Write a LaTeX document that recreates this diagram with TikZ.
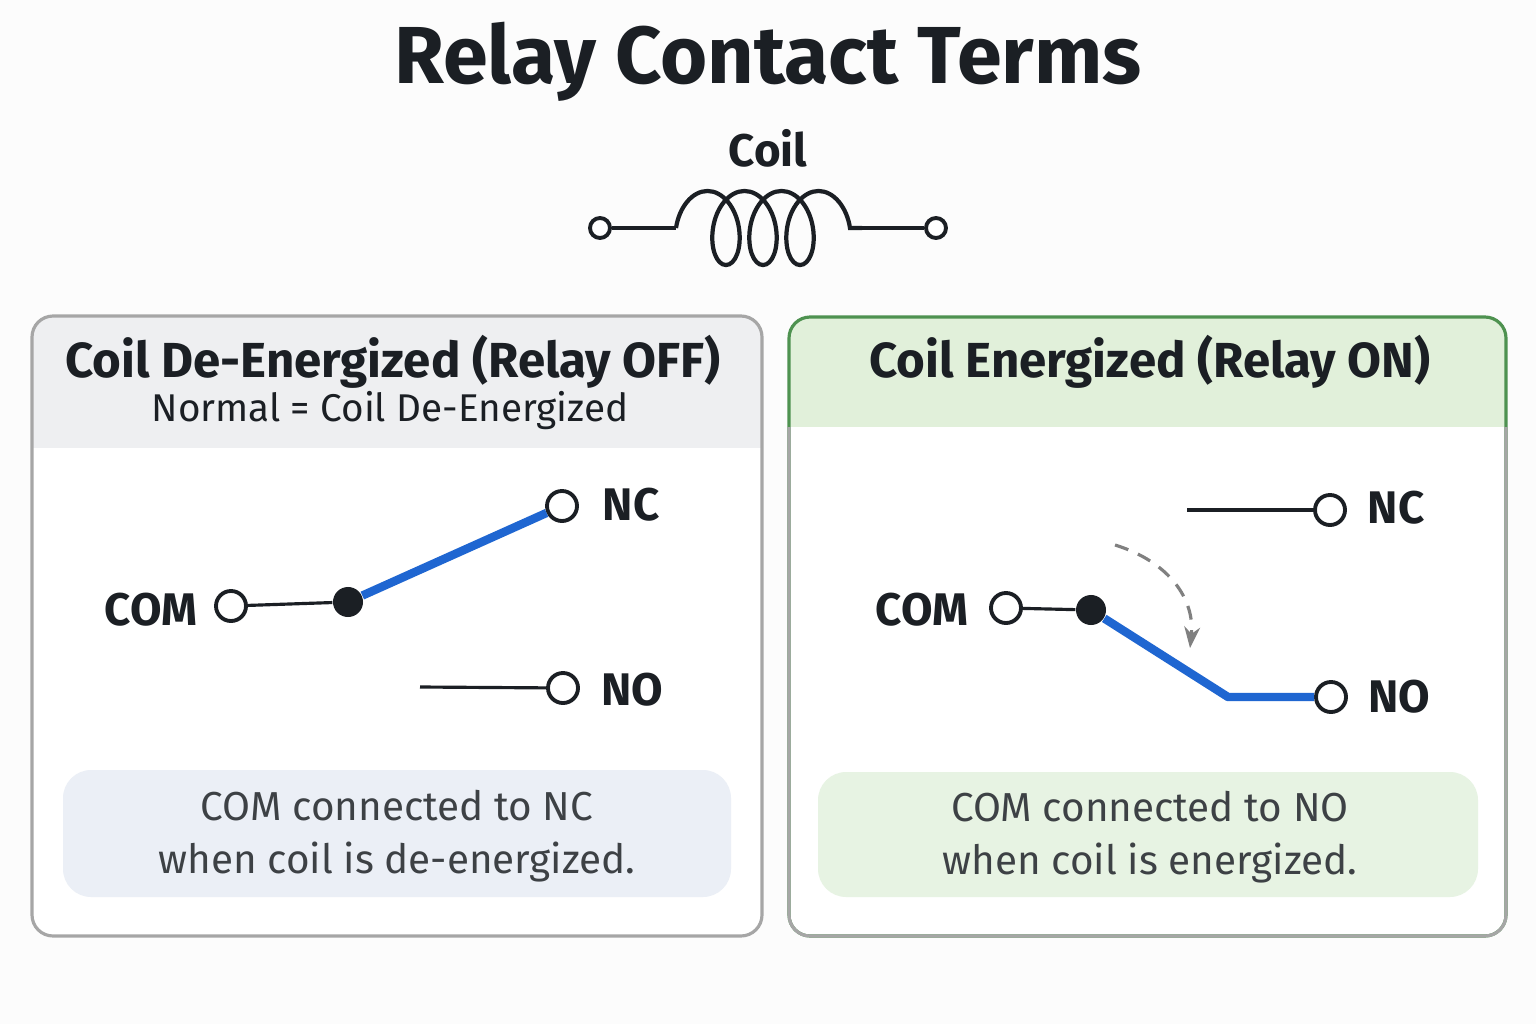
\documentclass[tikz,border=0pt]{standalone}
\usepackage{fontspec}
\setmainfont{Fira Sans}
\usetikzlibrary{decorations.pathmorphing,arrows.meta}
\definecolor{ink}{HTML}{1B1F24}
\definecolor{blu}{HTML}{1F66D1}
\definecolor{hdrg}{HTML}{EEEFF1}
\definecolor{hdrgr}{HTML}{E1F0DA}
\definecolor{boxg}{HTML}{EBEFF6}
\definecolor{boxgr}{HTML}{E7F3E3}
\definecolor{grn}{HTML}{4E9250}
\tikzset{
 term/.style={circle,draw=ink,line width=1.1pt,fill=white,minimum size=0.3cm,inner sep=0pt},
 pivot/.style={circle,fill=ink,minimum size=0.3cm,inner sep=0pt},
 wire/.style={draw=ink,line width=0.9pt},
 arm/.style={draw=blu,line width=2.4pt,line join=round},
 lbl/.style={font=\fontsize{13}{15}\selectfont\bfseries,text=ink},
 hdr/.style={font=\fontsize{14}{17}\selectfont\bfseries,text=ink},
 sub/.style={font=\fontsize{11}{13}\selectfont,text=ink},
 note/.style={font=\fontsize{11.5}{15}\selectfont,text=ink!85,align=center}
}
\begin{document}
\begin{tikzpicture}[x=0.01cm,y=-0.01cm]
\fill[white!98!gray] (0,0) rectangle (1536,1024);
\useasboundingbox (0,0) rectangle (1536,1024);
\node[font=\fontsize{23}{27}\selectfont\bfseries,text=ink] (title) at (768,62) {Relay Contact Terms};
\node[font=\fontsize{13}{15}\selectfont\bfseries,text=ink] (coillbl) at (768,148) {Coil};
% coil
\node[term,minimum size=0.2cm] (c1) at (600,228) {};
\node[term,minimum size=0.2cm] (c2) at (936,228) {};
\coordinate (ca) at (676,228);
\coordinate (cb) at (862,228);
\draw[wire,line width=1.2pt] (c1) -- (ca);
\draw[wire,line width=1.2pt] (cb) -- (c2);
\draw[wire,line width=1.2pt,decorate,decoration={coil,amplitude=0.37cm,segment length=0.37cm,aspect=0.6}] (ca) -- (cb);
% left panel
\begin{scope}
\clip[rounded corners=6] (32,316) rectangle (762,936);
\fill[white] (32,316) rectangle (762,936);
\fill[hdrg] (32,316) rectangle (762,448);
\end{scope}
\draw[gray!70,line width=0.9pt,rounded corners=6] (32,316) rectangle (762,936);
\node[hdr] (lh) at (393,362) {Coil De-Energized (Relay OFF)};
\node[sub] (ls) at (390,411) {Normal = Coil De-Energized};
\fill[boxg,rounded corners=8] (63,770) rectangle (731,897);
\node[note] (ln) at (397,836) {COM connected to NC\\when coil is de-energized.};
\node[term] (lcom) at (231,606) {};
\node[pivot] (lp) at (348,602) {};
\node[term] (lnc) at (562,506) {};
\node[term] (lno) at (563,688) {};
\coordinate (lnoend) at (420,687);
\draw[wire] (lcom) -- (lp);
\draw[arm] (lp) -- (lnc);
\draw[wire] (lnoend) -- (lno);
\node[lbl] (lcoml) at (151,610) {COM};
\node[lbl] (lncl) at (631,505) {NC};
\node[lbl] (lnol) at (632,690) {NO};
% right panel
\begin{scope}
\clip[rounded corners=6] (789,317) rectangle (1506,936);
\fill[white] (789,317) rectangle (1506,936);
\fill[hdrgr] (789,317) rectangle (1506,427);
\end{scope}
\draw[grn,line width=0.9pt,rounded corners=6] (789,317) rectangle (1506,936);
\draw[gray!70,line width=0.9pt,rounded corners=6] (789,427) -- (789,936) -- (1506,936) -- (1506,427);
\node[hdr] (rh) at (1150,362) {Coil Energized (Relay ON)};
\fill[boxgr,rounded corners=8] (818,772) rectangle (1478,897);
\node[note] (rn) at (1150,837) {COM connected to NO\\when coil is energized.};
\node[term] (rcom) at (1006,608) {};
\node[pivot] (rp) at (1091,610) {};
\node[term] (rnc) at (1330,510) {};
\node[term] (rno) at (1331,697) {};
\coordinate (rncend) at (1187,510);
\coordinate (rbend) at (1228,697);
\draw[wire] (rcom) -- (rp);
\draw[wire] (rncend) -- (rnc);
\draw[arm] (rp) -- (rbend) -- (rno);
\coordinate (da) at (1115,545);
\coordinate (db) at (1190,648);
\draw[gray,line width=0.9pt,dash pattern=on 4pt off 3pt,-{Stealth[length=6pt]}] (da) .. controls (1170,562) and (1195,600) .. (db);
\node[lbl] (rcoml) at (922,610) {COM};
\node[lbl] (rncl) at (1396,508) {NC};
\node[lbl] (rnol) at (1399,697) {NO};
\end{tikzpicture}
\end{document}
